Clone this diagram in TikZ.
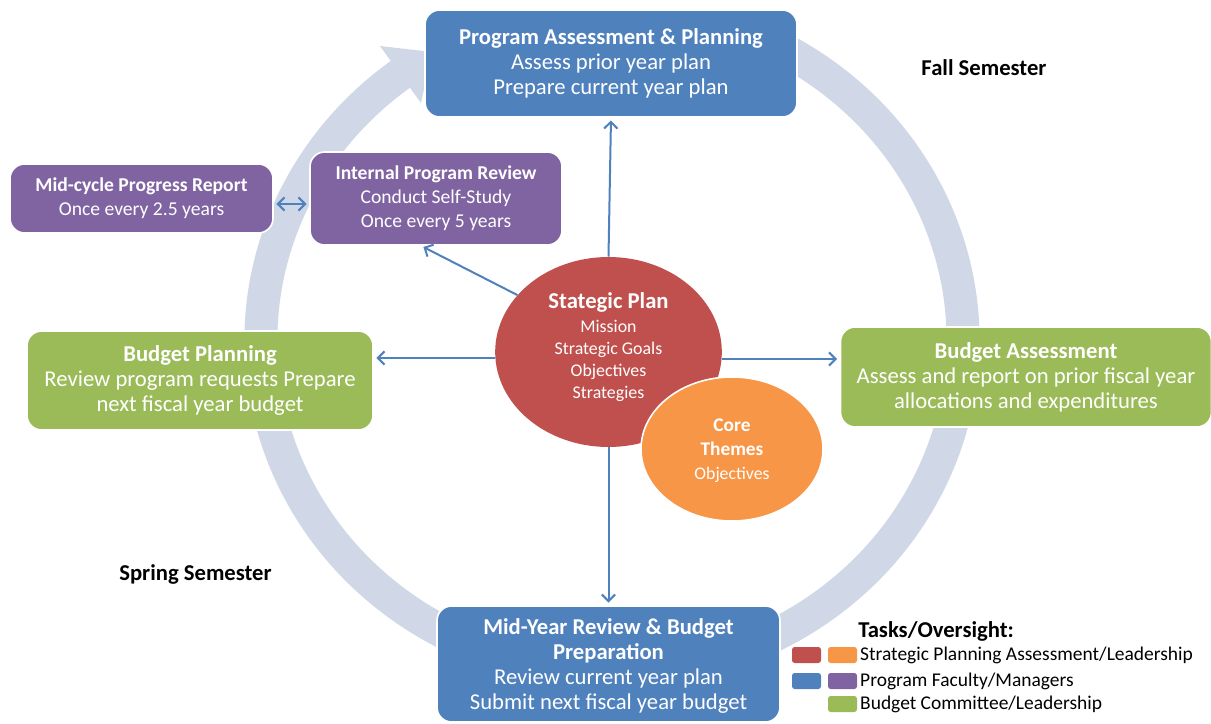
\documentclass[tikz,border=0pt]{standalone}
\usepackage{fontspec}
\setmainfont{Carlito}
\usetikzlibrary{shapes.geometric,arrows.meta,positioning}

\definecolor{ringblue}{HTML}{D0D8E8}
\definecolor{taskblue}{HTML}{4F81BD}
\definecolor{taskpurple}{HTML}{8064A2}
\definecolor{taskgreen}{HTML}{9BBB59}
\definecolor{taskred}{HTML}{C0504D}
\definecolor{taskorange}{HTML}{F79646}

\begin{document}
\begin{tikzpicture}[
    x=0.75pt, y=-0.75pt,
    >={Straight Barb[length=5pt,width=10pt]},
    every node/.style={inner sep=0pt, align=center, text=white},
    box/.style={draw=white, line width=1.2pt, rounded corners=11pt},
    bigbox/.style={box, font=\fontsize{17}{18.75}\selectfont},
    smallbox/.style={box, fill=taskpurple, font=\fontsize{14.7}{18}\selectfont},
    conn/.style={draw=taskblue, line width=1.5pt, ->, shorten >=2pt},
    swatch/.style={rounded corners=2pt, minimum width=21.75pt, minimum height=12pt},
    legtext/.style={text=black, anchor=west, font=\fontsize{14.6}{18}\selectfont},
    season/.style={text=black, font=\fontsize{17}{20}\selectfont\bfseries}
]
\useasboundingbox (0,0) rectangle (1211,724);

% cycle
\coordinate (ctr) at (612,340);
\draw[ringblue, line width=24.75pt] ([shift={(-65:351 and 333)}]ctr)
    arc[start angle=-65, end angle=233, x radius=351, y radius=333];
\fill[ringblue] (380,46) -- (432,52) -- (421,103) -- cycle;

\node[bigbox, fill=taskblue, minimum width=279pt, minimum height=80.25pt] (prog) at (611,63.5)
    {\textbf{Program Assessment \& Planning}\\Assess prior year plan\\Prepare current year plan};
\node[bigbox, fill=taskgreen, minimum width=278.25pt, minimum height=75pt] (budass) at (1026,377)
    {\textbf{Budget Assessment}\\Assess and report on prior fiscal year\\allocations and expenditures};
\node[bigbox, fill=taskblue, minimum width=257.25pt, minimum height=87pt, text depth=0pt] (midyear) at (608.5,664)
    {\textbf{Mid-Year Review \& Budget}\\\textbf{Preparation}\\Review current year plan\\Submit next fiscal year budget};
\node[bigbox, fill=taskgreen, minimum width=259.5pt, minimum height=74.25pt] (budplan) at (200,380.5)
    {\textbf{Budget Planning}\\Review program requests Prepare\\next fiscal year budget};
\node[smallbox, minimum width=189pt, minimum height=69.75pt] (intrev) at (436,198.5)
    {\textbf{Internal Program Review}\\Conduct Self-Study\\Once every 5 years};
\node[smallbox, minimum width=197.25pt, minimum height=51.75pt] (midcycle) at (141.5,198.5)
    {\textbf{Mid-cycle Progress Report}\\Once every 2.5 years};

\node[ellipse, fill=taskred, minimum width=170pt, minimum height=142.5pt, text depth=9.6pt,
    font=\fontsize{13.4}{16.5}\selectfont] (strat) at (608.5,352)
    {{\fontsize{17}{20}\selectfont\textbf{Stategic Plan}}\\[1pt]Mission\\Strategic Goals\\Objectives\\Strategies};
\node[ellipse, draw=white, line width=1.2pt, fill=taskorange, minimum width=136.5pt, minimum height=108pt,
    text depth=-2.5pt, font=\fontsize{13.3}{18}\selectfont] (core) at (732,449)
    {{\fontsize{14.5}{18}\selectfont\textbf{Core}}\\{\fontsize{14.5}{18}\selectfont\textbf{Themes}}\\Objectives};

\draw[conn] (strat.north) -- (prog.south);
\draw[conn] (strat.south) -- (midyear.north);
\draw[conn] (strat.west |- 0,358) -- (budplan.east |- 0,358);
\draw[conn] (strat.east |- 0,359) -- (budass.west |- 0,359);
\draw[conn] (strat.148) -- (intrev.south -| 421,0);
\draw[conn, <->, shorten <=2pt] (midcycle.east |- 0,204) -- (intrev.west |- 0,204);

\node[season] (fall) at (984,68) {Fall Semester};
\node[season] (spring) at (195.5,574) {Spring Semester};

% legend
\node[season, anchor=west] (tasks) at (858,631) {Tasks/Oversight:};
\node[swatch, fill=taskred] (swred) at (806.5,655) {};
\node[swatch, fill=taskorange] (sworange) at (842.5,655) {};
\node[swatch, fill=taskblue] (swblue) at (806.5,681) {};
\node[swatch, fill=taskpurple] (swpurple) at (842.5,681) {};
\node[swatch, fill=taskgreen] (swgreen) at (842.5,704) {};
\node[legtext, right=2pt of sworange] (legstrat) {Strategic Planning Assessment/Leadership};
\node[legtext, right=2pt of swpurple] (legprog) {Program Faculty/Managers};
\node[legtext, right=2pt of swgreen] (legbudget) {Budget Committee/Leadership};
\end{tikzpicture}
\end{document}
